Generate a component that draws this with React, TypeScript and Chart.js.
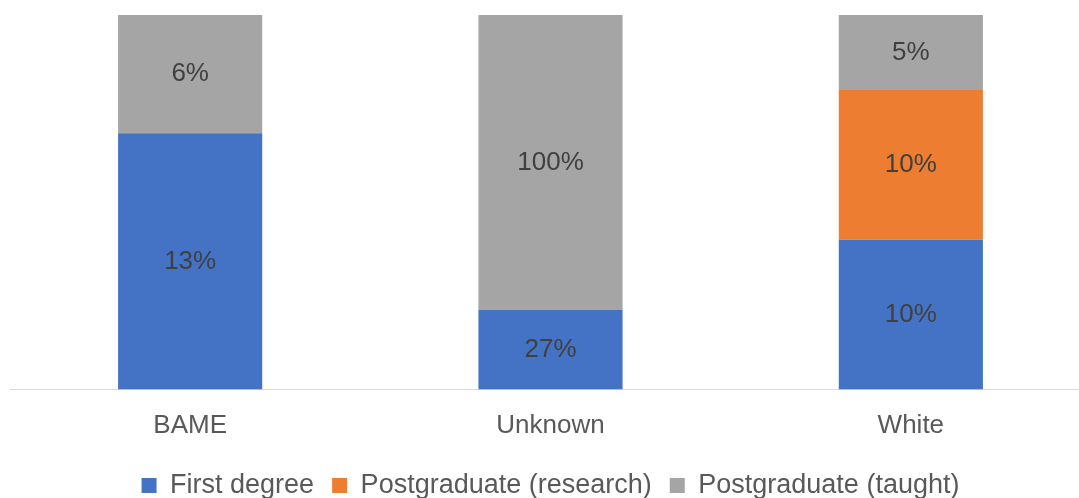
import React, { useEffect, useRef } from "react";
import { Chart, registerables } from "chart.js";

Chart.register(...registerables);

// Ethnicity groups on the x axis
const categories = ["BAME", "Unknown", "White"];

// Rates per qualification level, stacked to 100% within each group
const firstDegree = [13, 27, 10];
const pgResearch = [0, 0, 10];
const pgTaught = [6, 100, 5];

const seriesNames = ["First degree", "Postgraduate (research)", "Postgraduate (taught)"];
const seriesColors = ["#4472C4", "#ED7D31", "#A5A5A5"];

const FONT = "'Liberation Sans', Arial, Helvetica, sans-serif";

export default function App() {
  const canvasRef = useRef<HTMLCanvasElement | null>(null);

  useEffect(() => {
    const raw = [firstDegree, pgResearch, pgTaught];
    const totals = categories.map((_, i) => raw.reduce((s, arr) => s + arr[i], 0));
    const shares = raw.map((arr) => arr.map((v, i) => (v / totals[i]) * 100));

    // Writes the raw percentage in the middle of each non-empty segment
    const segmentLabels = {
      id: "segmentLabels",
      afterDatasetsDraw(chart: any) {
        const ctx = chart.ctx;
        ctx.save();
        ctx.font = `26px ${FONT}`;
        ctx.fillStyle = "#404040";
        ctx.textAlign = "center";
        ctx.textBaseline = "middle";
        chart.data.datasets.forEach((ds: any, di: number) => {
          const meta = chart.getDatasetMeta(di);
          meta.data.forEach((bar: any, i: number) => {
            const v = raw[di][i];
            if (!v) return;
            const cy = (bar.y + bar.base) / 2;
            ctx.fillText(`${v}%`, bar.x, cy);
          });
        });
        ctx.restore();
      },
    };

    const chart = new Chart(canvasRef.current as HTMLCanvasElement, {
      type: "bar",
      data: {
        labels: categories,
        datasets: shares.map((arr, di) => ({
          label: seriesNames[di],
          data: arr,
          backgroundColor: seriesColors[di],
          borderWidth: 0,
          barPercentage: 0.4,
          categoryPercentage: 1,
        })),
      },
      options: {
        animation: false,
        responsive: false,
        maintainAspectRatio: false,
        layout: { padding: { left: 10, right: 9, top: 15, bottom: -11 } },
        scales: {
          x: {
            stacked: true,
            grid: { display: false },
            border: { display: true, color: "#D9D9D9", width: 1 },
            ticks: {
              color: "#595959",
              font: { family: FONT, size: 26, lineHeight: 1.71 },
              padding: 6,
            },
          },
          y: {
            stacked: true,
            display: false,
            min: 0,
            max: 100,
          },
        },
        plugins: {
          legend: {
            position: "bottom",
            labels: {
              color: "#595959",
              font: { family: FONT, size: 27 },
              boxWidth: 15,
              boxHeight: 15,
              padding: 18,
            },
          },
          tooltip: { enabled: false },
        },
      },
      plugins: [segmentLabels],
    });

    return () => chart.destroy();
  }, []);

  return (
    <div
      style={{
        position: "absolute",
        left: 0,
        top: 0,
        width: 1079,
        height: 498,
        overflow: "hidden",
        background: "#ffffff",
      }}
    >
      <canvas ref={canvasRef} width={1100} height={498} style={{ display: "block" }} />
    </div>
  );
}
